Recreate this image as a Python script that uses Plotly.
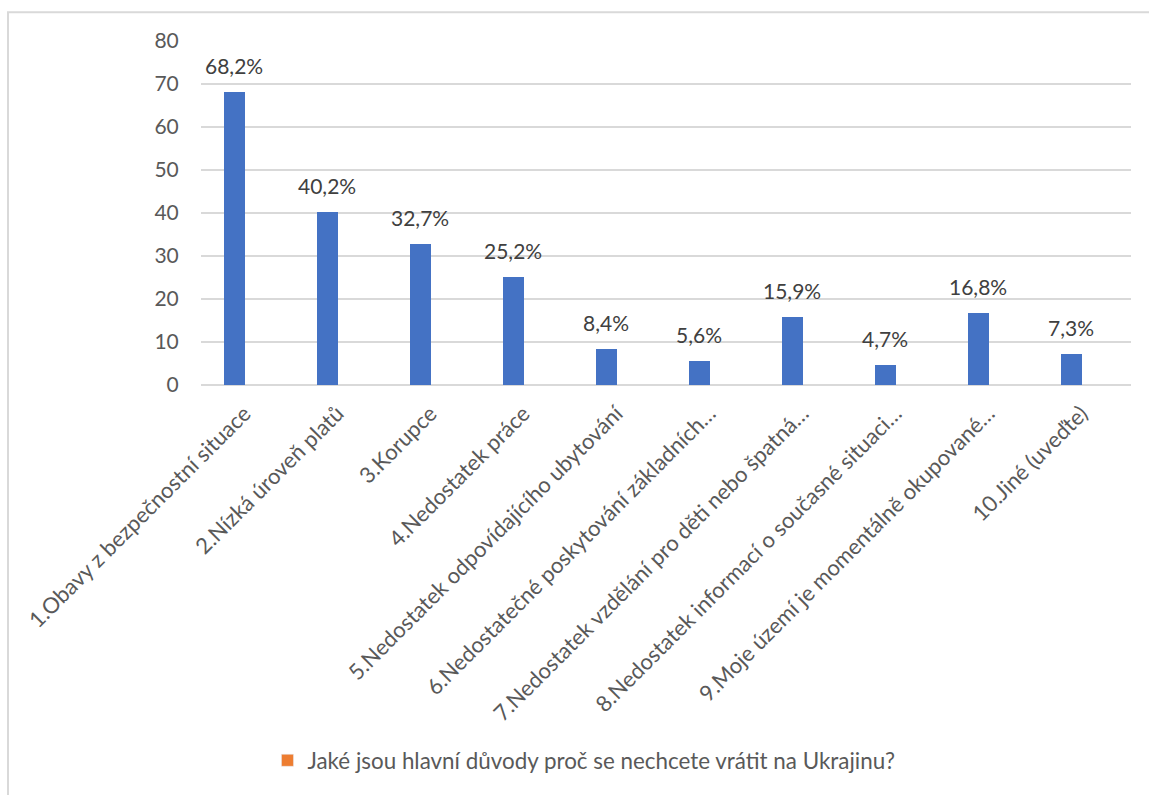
import plotly.graph_objects as go

categories = [
    "1.Obavy z bezpečnostní situace",
    "2.Nízká úroveň platů",
    "3.Korupce",
    "4.Nedostatek práce",
    "5.Nedostatek odpovídajícího ubytování",
    "6.Nedostatečné poskytování základních…",
    "7.Nedostatek vzdělání pro děti nebo špatná…",
    "8.Nedostatek informací o současné situaci…",
    "9.Moje území je momentálně okupované…",
    "10.Jiné (uveďte)",
]
values = [68.2, 40.2, 32.7, 25.2, 8.4, 5.6, 15.9, 4.7, 16.8, 7.3]
value_labels = ["68,2%", "40,2%", "32,7%", "25,2%", "8,4%", "5,6%", "15,9%", "4,7%", "16,8%", "7,3%"]
legend_name = "Jaké jsou hlavní důvody proč se nechcete vrátit na Ukrajinu?"
y_ticks = [0, 10, 20, 30, 40, 50, 60, 70, 80]

FONT = "Lato"
BLUE = "#4472C4"
ORANGE = "#ED7D31"

fig = go.Figure()
fig.add_trace(go.Bar(
    x=categories, y=values, marker_color=BLUE, marker_line_width=0,
    width=0.226, offset=-0.258, showlegend=False, hoverinfo="skip",
))
fig.add_trace(go.Bar(
    x=categories, y=[None] * len(categories), marker_color=ORANGE,
    name=legend_name, showlegend=True,
))

for c, v, t in zip(categories, values, value_labels):
    fig.add_annotation(
        x=c, y=v, text=t, showarrow=False, xref="x", yref="y",
        xshift=-13.5, yshift=12, yanchor="bottom", xanchor="center",
        font=dict(family=FONT, size=21, color="#404040"),
    )

# outer chart frame (extends beyond visible area on right/bottom)
fig.add_shape(type="rect", xref="paper", yref="paper",
              x0=(8 - 201) / 930, x1=(1200 - 201) / 930,
              y0=(388 - 850) / 347, y1=(388 - 12) / 347,
              line=dict(color="#D9D9D9", width=2), fillcolor="rgba(0,0,0,0)", layer="below")

fig.update_layout(
    width=1149, height=795,
    margin=dict(l=201, r=18, t=41, b=407),
    paper_bgcolor="white", plot_bgcolor="white",
    font=dict(family=FONT, size=22, color="#595959"),
    barmode="overlay",
    bargap=0,
    legend=dict(
        orientation="h", x=(287 - 201) / 930 - 0.021, xanchor="left",
        y=(388 - 767) / 347, yanchor="middle",
        font=dict(family=FONT, size=22.4, color="#595959"),
        bgcolor="rgba(0,0,0,0)",
    ),
    xaxis=dict(
        type="category", tickangle=-45, showgrid=False, showline=False,
        ticks="outside", ticklen=6, tickcolor="rgba(0,0,0,0)",
        ticklabelshift=-3,
        tickfont=dict(family=FONT, size=22, color="#595959"),
        fixedrange=True,
    ),
    yaxis=dict(
        range=[0, 80], tickvals=y_ticks, showgrid=True, gridcolor="#D9D9D9", gridwidth=1.5,
        zeroline=True, zerolinecolor="#D9D9D9", zerolinewidth=1.5, showline=False,
        ticks="outside", ticklen=17, tickcolor="rgba(0,0,0,0)",
        tickfont=dict(family=FONT, size=21, color="#595959"),
        fixedrange=True,
    ),
)

fig.write_html(
    "out.html",
    config={"displayModeBar": False},
    post_script="document.body.style.margin='0px';document.body.style.overflow='hidden';",
)
